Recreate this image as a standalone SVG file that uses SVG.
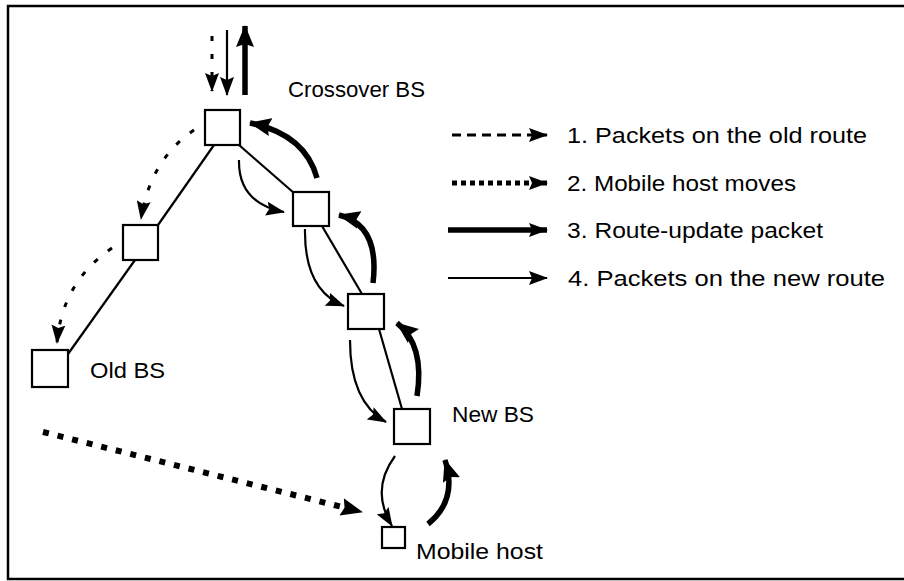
<svg xmlns="http://www.w3.org/2000/svg" width="904" height="581" viewBox="0 0 904 581">
  <style>
    .bg { fill: #ffffff; }
    .frame { stroke: #000; stroke-width: 2.5; fill: none; }
    .node { fill: #ffffff; stroke: #000; stroke-width: 2.2; }
    .link { stroke: #000; stroke-width: 2.2; fill: none; }
    .label { font-family: "Liberation Sans", Arial, sans-serif; font-size: 22px; fill: #000; }
    .old { stroke: #000; stroke-width: 3; fill: none; stroke-dasharray: 5 13; }
    .move { stroke: #000; stroke-width: 6; fill: none; stroke-dasharray: 6 9; }
    .upd { stroke: #000; stroke-width: 5.5; fill: none; }
    .new { stroke: #000; stroke-width: 2.2; fill: none; }
    .key-old { stroke: #000; stroke-width: 3; fill: none; stroke-dasharray: 9 6; }
    .key-move { stroke: #000; stroke-width: 5; fill: none; stroke-dasharray: 5 4; }
  </style>
  <defs>
    <marker id="headThin" markerUnits="userSpaceOnUse" markerWidth="19" markerHeight="14" refX="18" refY="7" orient="auto">
      <path d="M0,0 L19,7 L0,14 L3,7 Z" fill="#000"/>
    </marker>
    <marker id="headThick" markerUnits="userSpaceOnUse" markerWidth="22" markerHeight="18" refX="21" refY="9" orient="auto">
      <path d="M0,0 L22,9 L0,18 L3,9 Z" fill="#000"/>
    </marker>
  </defs>

  <rect class="bg" x="0" y="0" width="904" height="581"/>
  <path class="frame" d="M904,6 H8 V579 H904"/>

  <!-- links between base stations -->
  <g id="links">
    <line class="link" x1="214" y1="145" x2="158" y2="225"/>
    <line class="link" x1="135" y1="260" x2="68" y2="354"/>
    <line class="link" x1="239" y1="145" x2="294" y2="193"/>
    <line class="link" x1="322" y1="226" x2="362" y2="294"/>
    <line class="link" x1="379" y1="329" x2="402" y2="409"/>
  </g>

  <!-- base stations and host -->
  <g id="crossover">
    <rect class="node" x="205" y="110" width="35" height="35"/>
    <text class="label" x="288" y="97" textLength="137" lengthAdjust="spacingAndGlyphs">Crossover BS</text>
  </g>
  <g id="bs-mid-left">
    <rect class="node" x="123" y="225" width="35" height="35"/>
  </g>
  <g id="old-bs">
    <rect class="node" x="32" y="350" width="36" height="37"/>
    <text class="label" x="90" y="378" textLength="75" lengthAdjust="spacingAndGlyphs">Old BS</text>
  </g>
  <g id="bs-right-1">
    <rect class="node" x="293" y="192" width="36" height="34"/>
  </g>
  <g id="bs-right-2">
    <rect class="node" x="348" y="294" width="36" height="35"/>
  </g>
  <g id="new-bs">
    <rect class="node" x="394" y="409" width="36" height="35"/>
    <text class="label" x="452" y="422" textLength="82" lengthAdjust="spacingAndGlyphs">New BS</text>
  </g>
  <g id="mobile-host">
    <rect class="node" x="382" y="527" width="23" height="21"/>
    <text class="label" x="416" y="559" textLength="127" lengthAdjust="spacingAndGlyphs">Mobile host</text>
  </g>

  <!-- flow arrows -->
  <g id="connectors">
    <!-- arrivals at the crossover station -->
    <line class="old" x1="212" y1="36" x2="212" y2="91" marker-end="url(#headThin)"/>
    <line class="new" x1="227" y1="30" x2="227" y2="95" marker-end="url(#headThin)"/>
    <line class="upd" x1="245" y1="95" x2="245" y2="26" marker-end="url(#headThick)"/>

    <!-- old route -->
    <path class="old" d="M194,130 Q150,160 141,219" marker-end="url(#headThin)"/>
    <path class="old" d="M112,248 Q62,282 57,343" marker-end="url(#headThin)"/>

    <!-- host movement -->
    <path class="move" d="M43,432 L362,512" marker-end="url(#headThick)"/>

    <!-- new route -->
    <path class="new" d="M239,160 Q238,203 284,212" marker-end="url(#headThin)"/>
    <path class="new" d="M305,229 Q304,290 344,306" marker-end="url(#headThin)"/>
    <path class="new" d="M350,340 Q350,402 386,422" marker-end="url(#headThin)"/>
    <path class="new" d="M395,456 Q370,490 392,526" marker-end="url(#headThin)"/>

    <!-- route-update packets -->
    <path class="upd" d="M428,524 Q458,500 445,460" marker-end="url(#headThick)"/>
    <path class="upd" d="M417,396 Q425,345 397,323" marker-end="url(#headThick)"/>
    <path class="upd" d="M373,283 Q380,225 339,215" marker-end="url(#headThick)"/>
    <path class="upd" d="M317,178 Q305,134 250,123" marker-end="url(#headThick)"/>
  </g>

  <!-- legend -->
  <g id="legend">
    <line class="key-old" x1="452" y1="135" x2="547" y2="135" marker-end="url(#headThin)"/>
    <text class="label" x="567" y="143" textLength="300" lengthAdjust="spacingAndGlyphs">1. Packets on the old route</text>
    <line class="key-move" x1="452" y1="183" x2="547" y2="183" marker-end="url(#headThin)"/>
    <text class="label" x="567" y="191" textLength="229" lengthAdjust="spacingAndGlyphs">2. Mobile host moves</text>
    <line class="upd" x1="448" y1="230" x2="547" y2="230" marker-end="url(#headThin)"/>
    <text class="label" x="567" y="238" textLength="256" lengthAdjust="spacingAndGlyphs">3. Route-update packet</text>
    <line class="new" x1="448" y1="278" x2="547" y2="278" marker-end="url(#headThin)"/>
    <text class="label" x="568" y="286" textLength="317" lengthAdjust="spacingAndGlyphs">4. Packets on the new route</text>
  </g>
</svg>
